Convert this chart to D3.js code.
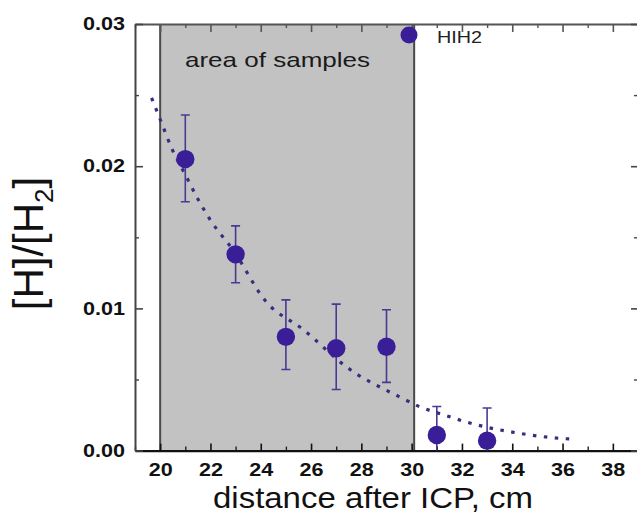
<!DOCTYPE html>
<html>
<head>
<meta charset="utf-8">
<script src="https://cdn.jsdelivr.net/npm/d3@7/dist/d3.min.js"></script>
<style>
  html, body { margin: 0; padding: 0; background: #fff; }
  svg { display: block; }
  text { font-family: "Liberation Sans", Arial, sans-serif; }
</style>
</head>
<body>
<svg id="chart" width="637" height="513"></svg>
<script>
// ---- data ----
const distance = [21, 23, 25, 27, 29, 31, 33];
const ratio    = [0.0205, 0.0138, 0.0080, 0.0072, 0.0073, 0.0011, 0.0007];
const errHigh  = [0.0236, 0.0158, 0.0106, 0.0103, 0.0099, 0.0031, 0.0030];
const errLow   = [0.0175, 0.0118, 0.0057, 0.0043, 0.0048, -0.0009, -0.0016];

const fitX = [19.66, 20.0, 20.5, 21.0, 21.5, 22.0, 22.9, 24.2, 25.7, 27.4, 27.8, 28.6, 29.5, 30.3, 31.3, 32.2, 33.1, 34.0, 35.0, 35.9, 36.5];
const fitY = [0.0248, 0.0233, 0.0211, 0.0194, 0.0177, 0.0162, 0.0141, 0.0105, 0.0085, 0.0059, 0.0054, 0.0046, 0.0038, 0.0031, 0.0025, 0.0020, 0.0016, 0.0013, 0.00103, 0.00086, 0.0008];

const sampleArea = [20, 30.1];

const xTicks = [20, 22, 24, 26, 28, 30, 32, 34, 36, 38];
const xMinorTicks = [19, 21, 23, 25, 27, 29, 31, 33, 35, 37, 39];
const yTicks = [0.00, 0.01, 0.02, 0.03];
const yMinorTicks = [0.005, 0.015, 0.025];

const seriesName = "HIH2";
const areaLabel = "area of samples";
const xTitle = "distance after ICP, cm";

// ---- layout ----
const L = 135, R = 638, T = 24, B = 450.6;
const svg = d3.select("#chart");
const x = d3.scaleLinear().domain([19, 39]).range([L, R]);
const y = d3.scaleLinear().domain([0, 0.03]).range([B, T]);

const ptColor = "#3a1e98";
const barColor = "#4a3894";

svg.append("defs").append("clipPath").attr("id", "plotclip")
  .append("rect").attr("x", L).attr("y", T).attr("width", R - L).attr("height", B - T);

// shaded area
svg.append("rect")
  .attr("x", x(sampleArea[0])).attr("y", T)
  .attr("width", x(sampleArea[1]) - x(sampleArea[0])).attr("height", B - T)
  .attr("fill", "#c2c2c2");
sampleArea.forEach(v => {
  svg.append("line").attr("x1", x(v)).attr("x2", x(v)).attr("y1", T).attr("y2", B)
    .attr("stroke", "#4a4a4a").attr("stroke-width", 2);
});

svg.append("text").attr("x", 185).attr("y", 67)
  .attr("font-size", 21).attr("fill", "#1a1a1a")
  .attr("textLength", 185).attr("lengthAdjust", "spacingAndGlyphs")
  .text(areaLabel);

// axes
function styleAxis(g, color, width) {
  g.select(".domain").attr("stroke", color).attr("stroke-width", width);
  g.selectAll(".tick line").attr("stroke", color).attr("stroke-width", 1.6);
}
const gxMinor = svg.append("g").attr("transform", `translate(0,${B})`)
  .call(d3.axisBottom(x).tickValues(xMinorTicks).tickSize(-4).tickSizeOuter(0).tickFormat(""));
gxMinor.select(".domain").remove();
gxMinor.selectAll(".tick line").attr("stroke", "#222").attr("stroke-width", 1.4);

const gx = svg.append("g").attr("transform", `translate(0,${B})`)
  .call(d3.axisBottom(x).tickValues(xTicks).tickSize(-7).tickSizeOuter(0).tickPadding(13));
styleAxis(gx, "#111", 2.4);
gx.selectAll(".tick text").attr("font-size", 18).attr("font-weight", "bold").attr("fill", "#111")
  .attr("font-family", "Liberation Sans, Arial, sans-serif")
  .attr("textLength", 24).attr("lengthAdjust", "spacingAndGlyphs");

const gtMinor = svg.append("g").attr("transform", `translate(0,${T})`)
  .call(d3.axisTop(x).tickValues(xMinorTicks).tickSize(-4).tickSizeOuter(0).tickFormat(""));
gtMinor.select(".domain").remove();
gtMinor.selectAll(".tick line").attr("stroke", "#555").attr("stroke-width", 1.4);
const gt = svg.append("g").attr("transform", `translate(0,${T})`)
  .call(d3.axisTop(x).tickValues(xTicks).tickSize(-8).tickSizeOuter(0).tickFormat(""));
styleAxis(gt, "#555", 1.8);

const gyMinor = svg.append("g").attr("transform", `translate(${L},0)`)
  .call(d3.axisLeft(y).tickValues(yMinorTicks).tickSize(-4).tickSizeOuter(0).tickFormat(""));
gyMinor.select(".domain").remove();
gyMinor.selectAll(".tick line").attr("stroke", "#444").attr("stroke-width", 1.4);
const gy = svg.append("g").attr("transform", `translate(${L},0)`)
  .call(d3.axisLeft(y).tickValues(yTicks).tickSize(-8).tickSizeOuter(0).tickPadding(10).tickFormat(d3.format(".2f")));
styleAxis(gy, "#444", 2);
gy.selectAll(".tick text").attr("font-size", 18).attr("font-weight", "bold").attr("fill", "#111")
  .attr("font-family", "Liberation Sans, Arial, sans-serif")
  .attr("textLength", 42).attr("lengthAdjust", "spacingAndGlyphs");

const grMinor = svg.append("g").attr("transform", `translate(${R},0)`)
  .call(d3.axisRight(y).tickValues(yMinorTicks).tickSize(-4).tickSizeOuter(0).tickFormat(""));
grMinor.select(".domain").remove();
grMinor.selectAll(".tick line").attr("stroke", "#444").attr("stroke-width", 1.4);
const gr = svg.append("g").attr("transform", `translate(${R},0)`)
  .call(d3.axisRight(y).tickValues(yTicks).tickSize(-7).tickSizeOuter(0).tickFormat(""));
styleAxis(gr, "#444", 2);

// fit curve
const fitData = fitX.map((v, i) => [v, fitY[i]]);
svg.append("path")
  .datum(fitData)
  .attr("clip-path", "url(#plotclip)")
  .attr("d", d3.line().x(d => x(d[0])).y(d => y(d[1])).curve(d3.curveMonotoneX))
  .attr("fill", "none").attr("stroke", "#35307e").attr("stroke-width", 3.2)
  .attr("stroke-dasharray", "3.5,7.5");

// error bars
const pts = distance.map((d, i) => ({ x: d, y: ratio[i], hi: errHigh[i], lo: errLow[i] }));
const eb = svg.append("g").attr("clip-path", "url(#plotclip)");
pts.forEach(p => {
  eb.append("line").attr("x1", x(p.x)).attr("x2", x(p.x)).attr("y1", y(p.lo)).attr("y2", y(p.hi))
    .attr("stroke", barColor).attr("stroke-width", 1.6);
  [p.hi, p.lo].forEach(v => {
    eb.append("line").attr("x1", x(p.x) - 4.5).attr("x2", x(p.x) + 4.5).attr("y1", y(v)).attr("y2", y(v))
      .attr("stroke", barColor).attr("stroke-width", 1.6);
  });
});

// points
svg.append("g").selectAll("circle").data(pts).join("circle")
  .attr("cx", d => x(d.x)).attr("cy", d => y(d.y)).attr("r", 9.2)
  .attr("fill", ptColor);

// legend
svg.append("circle").attr("cx", 409).attr("cy", 35).attr("r", 8.5).attr("fill", ptColor);
svg.append("text").attr("x", 437).attr("y", 43).attr("font-size", 17).attr("fill", "#222")
  .attr("textLength", 45).attr("lengthAdjust", "spacingAndGlyphs").text(seriesName);

// axis titles
svg.append("text").attr("x", 373).attr("y", 508).attr("text-anchor", "middle")
  .attr("font-size", 29).attr("fill", "#111")
  .attr("textLength", 320).attr("lengthAdjust", "spacingAndGlyphs")
  .text(xTitle);

const yl = svg.append("text").attr("transform", "translate(43,243.5) rotate(-90)")
  .attr("text-anchor", "middle").attr("font-size", 42).attr("fill", "#111");
yl.append("tspan").text("[H]/[H");
yl.append("tspan").attr("font-size", 26).attr("dy", 10).text("2");
yl.append("tspan").attr("dy", -10).text("]");
</script>
</body>
</html>
